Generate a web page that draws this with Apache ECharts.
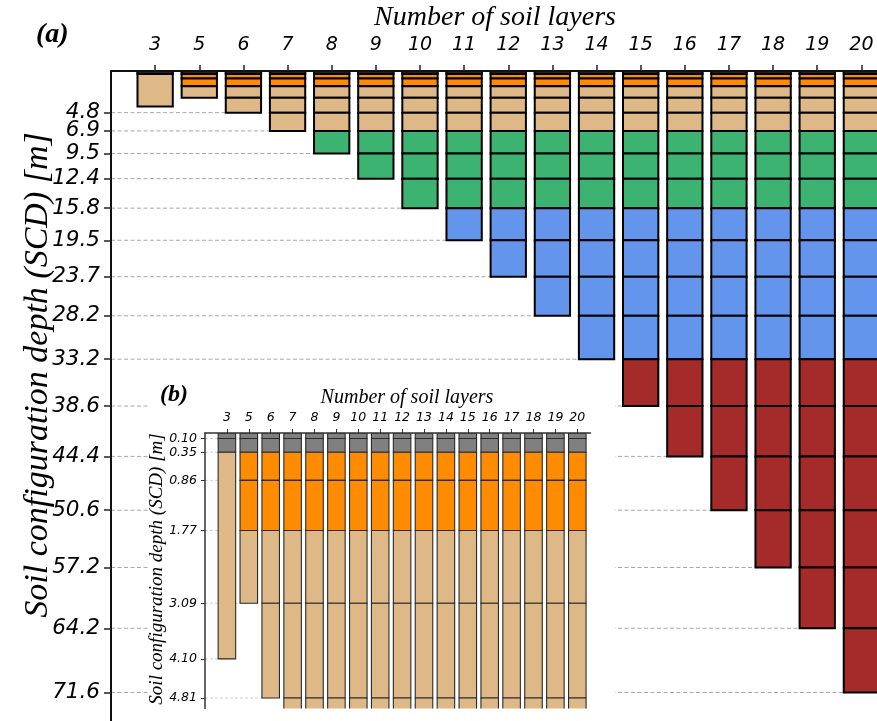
<!DOCTYPE html>
<html>
<head>
<meta charset="utf-8">
<script src="https://cdn.jsdelivr.net/npm/echarts@6/dist/echarts.min.js"></script>
<style>
html,body{margin:0;padding:0;background:#fff;}
#chart{width:877px;height:721px;}
</style>
</head>
<body>
<div id="chart"></div>
<script>
// ---- data ----
const categories = ['3','5','6','7','8','9','10','11','12','13','14','15','16','17','18','19','20'];
const layerCounts = [3,5,6,7,8,9,10,11,12,13,14,15,16,17,18,19,20];
const layerBoundaries = [0,0.10,0.35,0.86,1.77,3.09,4.81,6.9,9.5,12.4,15.8,19.5,23.7,28.2,33.2,38.6,44.4,50.6,57.2,64.2,71.6];
const threeLayerBoundaries = [0,0.10,0.35,4.10];
const layerMaterial = ['gray','gray','orange','orange','tan','tan','tan','green','green','green','blue','blue','blue','blue','red','red','red','red','red','red'];
const threeLayerMaterial = ['gray','gray','tan'];
const mainDepthTicks = [4.8,6.9,9.5,12.4,15.8,19.5,23.7,28.2,33.2,38.6,44.4,50.6,57.2,64.2,71.6];
const insetDepthTicks = [0.10,0.35,0.86,1.77,3.09,4.10,4.81];

// ---- styles ----
const materialColor = {gray:'#808080', orange:'#FF8C00', tan:'#DEB887', green:'#3CB371', blue:'#6495ED', red:'#A52A2A'};
const positions = categories.map((c,i)=>i+1);

// build layer segments
const segments = [];
const totalDepth = [];
layerCounts.forEach((n,i)=>{
  const b = n===3 ? threeLayerBoundaries : layerBoundaries.slice(0,n+1);
  const m = n===3 ? threeLayerMaterial : layerMaterial.slice(0,n);
  totalDepth.push(b[b.length-1]);
  for(let k=0;k<m.length;k++) segments.push([i+1, b[k], b[k+1], m[k]]);
});
function gridEnds(ticks){
  return ticks.map(t=>{
    let end = 1;
    for(let i=0;i<totalDepth.length;i++){ if(Math.abs(totalDepth[i]-t)<0.06){ end=i+1; break; } }
    return [end, t];
  });
}
const mainGrid = gridEnds(mainDepthTicks);
const insetGrid = gridEnds(insetDepthTicks);

function barRenderer(strokeW, strokeC){
  return function(params, api){
    const seg = segments[params.dataIndex];
    const p0 = api.coord([api.value(0)-0.4, api.value(1)]);
    const p1 = api.coord([api.value(0)+0.4, api.value(2)]);
    return {type:'rect', shape:{x:p0[0], y:p0[1], width:p1[0]-p0[0], height:p1[1]-p0[1]},
      style:{fill:materialColor[seg[3]], stroke:strokeC, lineWidth:strokeW}};
  };
}
function lineRenderer(color, w, dash){
  return function(params, api){
    const a = api.coord([0, api.value(1)]);
    const b = api.coord([api.value(0), api.value(1)]);
    return {type:'line', shape:{x1:a[0], y1:a[1], x2:b[0], y2:b[1]}, style:{stroke:color, lineWidth:w, lineDash:dash}};
  };
}

const chart = echarts.init(document.getElementById('chart'), null, {renderer:'canvas'});
const tickFont = 'DejaVu Sans';
const option = {
  animation:false,
  backgroundColor:'#fff',
  grid:[
    {left:111, top:71, width:17.6*44.14, height:80*8.68, outerBoundsMode:'none', containLabel:false},
    {left:205, top:433, width:17.6*21.9, height:5*55.1, outerBoundsMode:'none', containLabel:false}
  ],
  xAxis:[
    {gridIndex:0, type:'value', position:'top', min:0, max:17.6, z:5,
      axisLine:{show:true, onZero:false, lineStyle:{color:'#111', width:2}},
      axisTick:{show:true, customValues:positions, length:6, lineStyle:{color:'#222', width:1.5}},
      axisLabel:{customValues:positions, formatter:v=>categories[Math.round(v)-1], margin:16,
        showMinLabel:true, showMaxLabel:true, hideOverlap:false,
        fontFamily:tickFont, fontStyle:'italic', fontSize:19, color:'#000'},
      splitLine:{show:false}},
    {gridIndex:1, type:'value', position:'top', min:0, max:17.6, z:40,
      axisLine:{show:true, onZero:false, lineStyle:{color:'#333', width:1.5}},
      axisTick:{show:true, customValues:positions, length:4, lineStyle:{color:'#333', width:1}},
      axisLabel:{customValues:positions, formatter:v=>categories[Math.round(v)-1], margin:9,
        showMinLabel:true, showMaxLabel:true, hideOverlap:false,
        fontFamily:tickFont, fontStyle:'italic', fontSize:12.5, color:'#000'},
      splitLine:{show:false}}
  ],
  yAxis:[
    {gridIndex:0, type:'value', inverse:true, min:0, max:80, z:5,
      axisLine:{show:true, onZero:false, lineStyle:{color:'#111', width:2}},
      axisTick:{show:true, customValues:mainDepthTicks, length:7, lineStyle:{color:'#222', width:1.5}},
      axisLabel:{customValues:[0].concat(mainDepthTicks), formatter:v=>v.toFixed(1), margin:11,
        showMinLabel:false, showMaxLabel:true, hideOverlap:false,
        fontFamily:tickFont, fontStyle:'italic', fontSize:21.5, color:'#000'},
      splitLine:{show:false}},
    {gridIndex:1, type:'value', inverse:true, min:0, max:5, z:40,
      axisLine:{show:true, onZero:false, lineStyle:{color:'#333', width:1.5}},
      axisTick:{show:true, customValues:insetDepthTicks, length:4, lineStyle:{color:'#333', width:1}},
      axisLabel:{customValues:[0].concat(insetDepthTicks), formatter:v=>v.toFixed(2), margin:8,
        showMinLabel:false, showMaxLabel:true, hideOverlap:false,
        fontFamily:tickFont, fontStyle:'italic', fontSize:12.5, color:'#000'},
      splitLine:{show:false}}
  ],
  graphic:[
    {type:'rect', z:10, shape:{x:150, y:370, width:465, height:360}, style:{fill:'#fff'}},
    {type:'text', z:50, x:36, y:21, style:{text:'(a)', font:'italic bold 28px "Liberation Serif"', fill:'#000'}},
    {type:'text', z:50, x:495, y:18, style:{text:'Number of soil layers', font:'italic 28px "Liberation Serif"', fill:'#000', textAlign:'center', textVerticalAlign:'middle'}},
    {type:'text', z:50, x:38, y:375, rotation:Math.PI/2, style:{text:'Soil configuration depth (SCD) [m]', font:'italic 34px "Liberation Serif"', fill:'#000', textAlign:'center', textVerticalAlign:'middle'}},
    {type:'text', z:50, x:160, y:383, style:{text:'(b)', font:'italic bold 24px "Liberation Serif"', fill:'#000'}},
    {type:'text', z:50, x:407, y:398, style:{text:'Number of soil layers', font:'italic 20px "Liberation Serif"', fill:'#000', textAlign:'center', textVerticalAlign:'middle'}},
    {type:'text', z:50, x:157, y:569, rotation:Math.PI/2, style:{text:'Soil configuration depth (SCD) [m]', font:'italic 19px "Liberation Serif"', fill:'#000', textAlign:'center', textVerticalAlign:'middle'}}
  ],
  series:[
    {type:'custom', xAxisIndex:0, yAxisIndex:0, z:1, data:mainGrid, renderItem:lineRenderer('#a8a8a8',1,[4,2.5]), silent:true},
    {type:'custom', xAxisIndex:0, yAxisIndex:0, z:2, data:segments.map(s=>[s[0],s[1],s[2]]), renderItem:barRenderer(2,'#000'), clip:true, silent:true},
    {type:'custom', xAxisIndex:1, yAxisIndex:1, z:20, data:insetGrid, renderItem:lineRenderer('#c4c4c4',0.8,[3,2]), silent:true},
    {type:'custom', xAxisIndex:1, yAxisIndex:1, z:21, data:segments.map(s=>[s[0],s[1],s[2]]), renderItem:barRenderer(1.1,'#2a2a2a'), clip:true, silent:true}
  ]
};
chart.setOption(option);
</script>
</body>
</html>
